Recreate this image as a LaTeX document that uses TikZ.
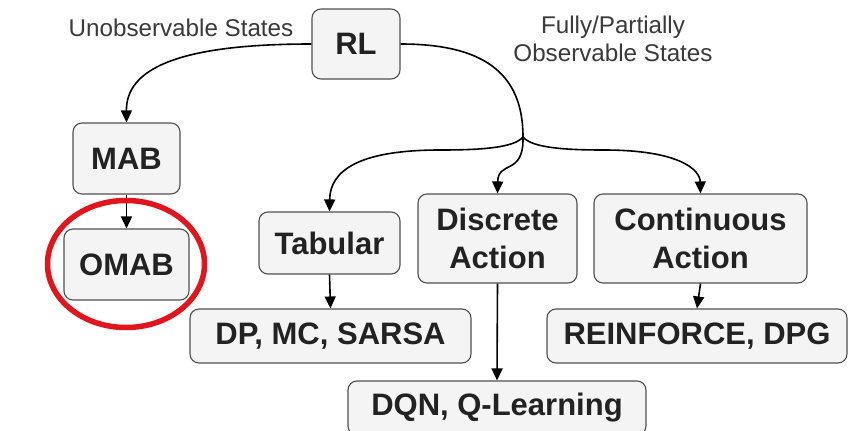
\documentclass[tikz,border=0pt]{standalone}
\usepackage{fontspec}
\setmainfont{Liberation Sans}
\usetikzlibrary{arrows.meta}
\definecolor{boxfill}{HTML}{F4F4F4}
\definecolor{boxline}{HTML}{505050}
\definecolor{ink}{HTML}{222222}
\definecolor{lblink}{HTML}{3A3A3A}
\definecolor{ringred}{HTML}{E3141B}
\begin{document}
\begin{tikzpicture}[x=1pt,y=-1pt,
  box/.style={draw=boxline, fill=boxfill, rounded corners=9pt, line width=1.1pt,
    text=ink, font=\fontsize{31}{38}\selectfont\bfseries, align=center, inner sep=0pt},
  conn/.style={line width=1.6pt, draw=black, -{Triangle[length=12pt,width=11pt]}},
  lbl/.style={font=\fontsize{24.2}{28}\selectfont, text=lblink, align=center}]
\useasboundingbox (0,0) rectangle (849,431);
\fill[white] (0,0) rectangle (849,431);

% edge labels
\node[lbl] (unobs) at (181,28) {Unobservable States};
\node[lbl] (obs) at (613,39) {Fully/Partially\\Observable States};

% boxes
\node[box, minimum width=88pt,  minimum height=70pt] (rl)   at (356,44)    {RL};
\node[box, minimum width=107pt, minimum height=71pt] (mab)  at (126.5,158.5) {MAB};
\node[box, minimum width=125pt, minimum height=71pt] (omab) at (126.5,264.5) {OMAB};
\node[box, minimum width=141pt, minimum height=62pt] (tab)  at (329.5,243) {Tabular};
\node[box, minimum width=159pt, minimum height=89pt] (disc) at (497.5,238.5) {Discrete\\Action};
\node[box, minimum width=213pt, minimum height=89pt] (cont) at (700.5,238.5) {Continuous\\Action};
\node[box, minimum width=281pt, minimum height=54pt] (dp)   at (330.5,336) {DP, MC, SARSA};
\node[box, minimum width=300pt, minimum height=54pt] (rein) at (697,336)   {REINFORCE, DPG};
\node[box, minimum width=298pt, minimum height=54pt] (dqn)  at (497,408)   {DQN, Q-Learning};

% branching point below RL
\coordinate (j) at (523,137);

% connectors
\draw[conn] (rl.west) .. controls (175,44) and (126,70) .. (mab.north);
\draw[conn] (mab.south) -- (omab.north);
\draw[line width=1.6pt] (rl.east) .. controls (482,44) and (523,72) .. (j);
\draw[conn] (j) .. controls (514,148) and (480,150) .. (440,150)
                .. controls (360,150) and (330,170) .. (tab.north);
\draw[conn] (j) .. controls (524,176) and (498,160) .. (disc.north);
\draw[conn] (j) .. controls (532,148) and (566,150) .. (604,150)
                .. controls (680,150) and (700,170) .. (cont.north);
\draw[conn] (tab.south) -- (dp.north);
\draw[conn] (disc.south) -- (dqn.north);
\draw[conn] (cont.south) -- (rein.north);

% highlight ring
\draw[ringred, line width=5.5pt] (126,264) ellipse [x radius=78.5pt, y radius=63.5pt];
\end{tikzpicture}
\end{document}
